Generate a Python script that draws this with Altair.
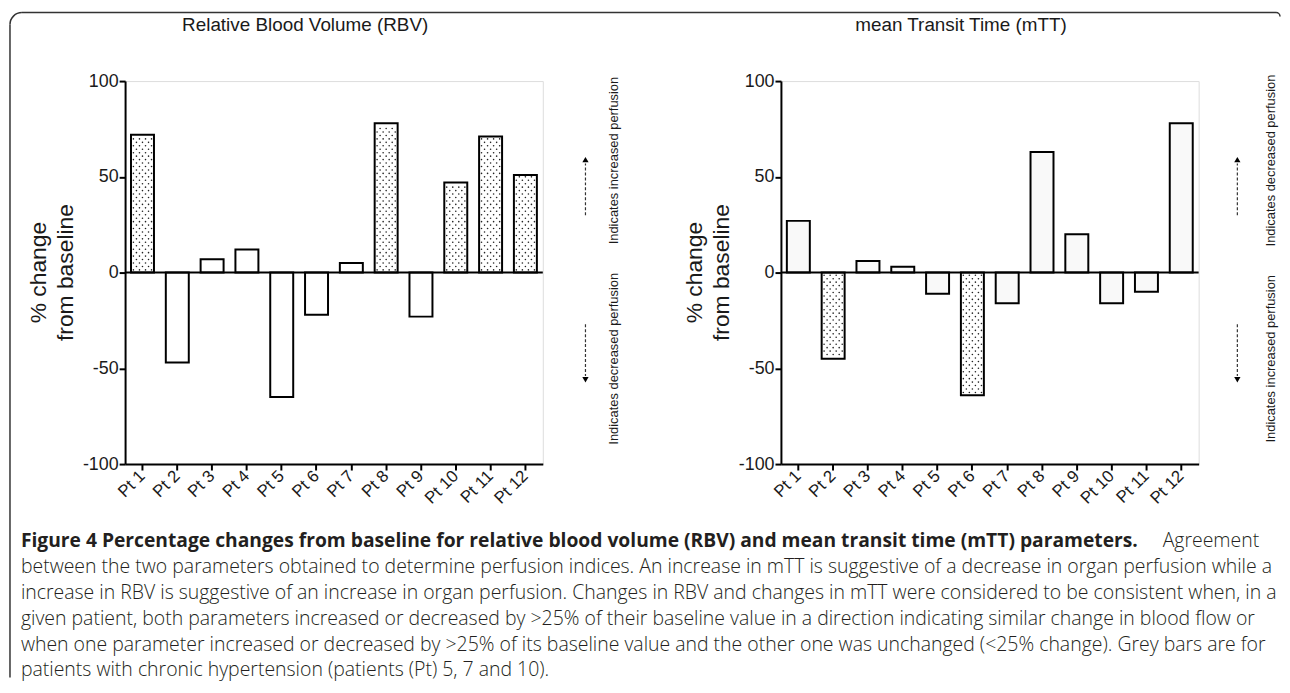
import altair as alt
import pandas as pd

# ---------------- data ----------------
patients = ["Pt 1", "Pt 2", "Pt 3", "Pt 4", "Pt 5", "Pt 6",
            "Pt 7", "Pt 8", "Pt 9", "Pt 10", "Pt 11", "Pt 12"]
rbv_change = [72, -47, 7, 12, -65, -22, 5, 78, -23, 47, 71, 51]
mtt_change = [27, -45, 6, 3, -11, -64, -16, 63, 20, -16, -10, 78]
rbv_dotted = [True, False, False, False, False, False, False, True, False, True, True, True]
mtt_dotted = [False, True, False, False, False, True, False, False, False, False, False, False]
y_tick_values = [-100, -50, 0, 50, 100]

panel_titles = ["Relative Blood Volume (RBV)", "mean Transit Time (mTT)"]
y_title_lines = ["% change", "from baseline"]
rbv_notes = ["Indicates increased perfusion", "Indicates decreased perfusion"]
mtt_notes = ["Indicates decreased perfusion", "Indicates increased perfusion"]

caption_bold = ("Figure 4 Percentage changes from baseline for relative blood volume (RBV) "
                "and mean transit time (mTT) parameters.")
caption_tail = "Agreement"
caption_lines = [
    "between the two parameters obtained to determine perfusion indices. An increase in mTT is suggestive of a decrease in organ perfusion while a",
    "increase in RBV is suggestive of an increase in organ perfusion. Changes in RBV and changes in mTT were considered to be consistent when, in a",
    "given patient, both parameters increased or decreased by >25% of their baseline value in a direction indicating similar change in blood flow or",
    "when one parameter increased or decreased by >25% of its baseline value and the other one was unchanged (<25% change). Grey bars are for",
    "patients with chronic hypertension (patients (Pt) 5, 7 and 10).",
]

# ---------------- layout ----------------
FONT = "Liberation Sans"
CAP_FONT = "Open Sans"
W, H = 421, 386
PLOT_LEFT, PLOT_TOP = 125, 78      # page position of the left plot area
SPACING = 240


def px(page_x):
    return page_x - PLOT_LEFT


def py(page_y):
    return page_y - PLOT_TOP


x_scale = alt.Scale(domain=patients, paddingInner=0.34, paddingOuter=0.17)
y_scale = alt.Scale(domain=[-100, 100], nice=False, zero=False)
N_SLOTS = 7
slot_pos = [(0.3 + i + 0.5) / (N_SLOTS + 0.6) for i in range(N_SLOTS)]

x_axis = alt.Axis(title=None, labelAngle=-45, labelAlign="right", labelBaseline="middle",
                  labelFontSize=17, labelFont=FONT, labelColor="#1a1a1a", labelPadding=3,
                  labelOverlap=False, tickSize=6, tickWidth=2, tickColor="black",
                  domainColor="black", domainWidth=2, grid=False)
y_axis = alt.Axis(values=y_tick_values, title=None, labelFontSize=18, labelFont=FONT,
                  labelColor="#1a1a1a", labelPadding=1, labelFlush=False, labelOverlap=False,
                  labelExpr="'' + datum.value",
                  tickSize=6, tickWidth=2, tickColor="black", domainColor="black",
                  domainWidth=2, grid=False)


def dot_table(values, dotted):
    rows = []
    for p, v, d in zip(patients, values, dotted):
        if not d:
            continue
        sign = 1 if v > 0 else -1
        k = 0
        while True:
            yy = 1.4 + k * 1.8
            if yy > abs(v) - 1.0:
                break
            chosen = range(0, N_SLOTS, 2) if k % 2 == 0 else range(1, N_SLOTS, 2)
            for s in chosen:
                rows.append({"patient": p, "value": sign * yy, "slot": s})
            k += 1
    return pd.DataFrame(rows)


def one(text=""):
    return pd.DataFrame({"text": [text]})


def panel(values, dotted, title, notes, plain_fill, note_x, arrow_x, extra=()):
    df = pd.DataFrame({"patient": patients, "value": values, "dotted": dotted})
    X = alt.X("patient:N", sort=patients, scale=x_scale, axis=x_axis)

    bars = alt.Chart(df).mark_bar(stroke="black", strokeWidth=2).encode(
        x=X,
        y=alt.Y("value:Q", scale=y_scale, axis=y_axis),
        y2=alt.datum(0),
        fill=alt.condition("datum.dotted", alt.value("white"), alt.value(plain_fill)),
    )
    dots_df = dot_table(values, dotted)
    dot_layers = []
    for i in range(N_SLOTS):
        dot_layers.append(
            alt.Chart(dots_df).transform_filter(alt.datum.slot == i)
            .mark_circle(size=2.6, color="#222222", opacity=1).encode(
                x=alt.X("patient:N", sort=patients, scale=x_scale, bandPosition=slot_pos[i]),
                y=alt.Y("value:Q", scale=y_scale),
            )
        )
    zero = alt.Chart(one()).mark_rule(color="black", strokeWidth=2).encode(y=alt.datum(0))

    note_df = pd.DataFrame({"text": notes, "value": [58.5, -45.0]})
    note_marks = alt.Chart(note_df).mark_text(angle=270, fontSize=13, font=FONT, color="#1a1a1a",
                                              align="center", baseline="middle").encode(
        x=alt.value(note_x), y=alt.Y("value:Q", scale=y_scale), text="text:N")

    arrow_up = alt.Chart(one()).mark_rule(color="#333", strokeWidth=1.2, strokeDash=[3, 2]).encode(
        x=alt.value(arrow_x), y=alt.datum(30), y2=alt.datum(57))
    arrow_dn = alt.Chart(one()).mark_rule(color="#333", strokeWidth=1.2, strokeDash=[3, 2]).encode(
        x=alt.value(arrow_x), y=alt.datum(-27), y2=alt.datum(-54))
    head_up = alt.Chart(one()).mark_point(shape="triangle-up", filled=True, size=40, color="black",
                                          opacity=1).encode(x=alt.value(arrow_x), y=alt.datum(59))
    head_dn = alt.Chart(one()).mark_point(shape="triangle-down", filled=True, size=40, color="black",
                                          opacity=1).encode(x=alt.value(arrow_x), y=alt.datum(-56))

    title_mark = alt.Chart(one(title)).mark_text(fontSize=19, font=FONT, color="#1a1a1a",
                                                 baseline="middle").encode(
        x=alt.value(W / 2 - 29), y=alt.value(py(22)), text="text:N")
    ytitle1 = alt.Chart(one(y_title_lines[0])).mark_text(angle=270, fontSize=23, font=FONT,
                                                         color="#1a1a1a", baseline="middle").encode(
        x=alt.value(-87), y=alt.value(H / 2), text="text:N")
    ytitle2 = alt.Chart(one(y_title_lines[1])).mark_text(angle=270, fontSize=23, font=FONT,
                                                         color="#1a1a1a", baseline="middle").encode(
        x=alt.value(-59), y=alt.value(H / 2), text="text:N")

    layers = [bars] + dot_layers + [zero, note_marks, arrow_up, arrow_dn, head_up, head_dn,
                                    title_mark, ytitle1, ytitle2] + list(extra)
    return alt.layer(*layers).properties(width=W, height=H)


# ---------- frame and caption (drawn in the left panel's coordinates) ----------
FRAME = "#333333"
frame_top = alt.Chart(one()).mark_rule(color=FRAME, strokeWidth=1.5).encode(
    x=alt.value(px(21)), x2=alt.value(px(1285)), y=alt.value(py(9)))
frame_left = alt.Chart(one()).mark_rule(color=FRAME, strokeWidth=1.5).encode(
    x=alt.value(px(9)), y=alt.value(py(21)), y2=alt.value(py(679)))
frame_corner = alt.Chart(one()).mark_arc(radius=12.75, radius2=11.25, theta=4.712389,
                                         theta2=6.283185, color=FRAME).encode(
    x=alt.value(px(21)), y=alt.value(py(21)))
frame_corner_r = alt.Chart(one()).mark_arc(radius=4.75, radius2=3.25, theta=0,
                                           theta2=1.570796, color=FRAME).encode(
    x=alt.value(px(1285)), y=alt.value(py(13)))

CAP_Y0, CAP_DY = 542, 26
cap_color = "#231f20"
cap_bold = alt.Chart(one(caption_bold)).mark_text(align="left", baseline="middle", font=CAP_FONT,
                                                  fontSize=19.4, fontWeight="bold",
                                                  color=cap_color).encode(
    x=alt.value(px(20)), y=alt.value(py(CAP_Y0)), text="text:N")
cap_tail = alt.Chart(one(caption_tail)).mark_text(align="right", baseline="middle", font=CAP_FONT,
                                                  fontSize=19.6, fontWeight=300,
                                                  color=cap_color).encode(
    x=alt.value(px(1268)), y=alt.value(py(CAP_Y0)), text="text:N")
cap_df = pd.DataFrame({"text": caption_lines,
                       "line": list(range(1, len(caption_lines) + 1))})
cap_body = alt.Chart(cap_df).mark_text(align="left", baseline="middle", font=CAP_FONT,
                                       fontSize=19.6, fontWeight=300, color=cap_color).encode(
    x=alt.value(px(20)),
    y=alt.Y("line:Q", scale=alt.Scale(domain=[0, 1], range=[py(CAP_Y0), py(CAP_Y0 + CAP_DY)]),
            axis=None),
    text="text:N")

left = panel(rbv_change, rbv_dotted, panel_titles[0], rbv_notes, "white",
             note_x=px(618), arrow_x=px(589),
             extra=[frame_top, frame_left, frame_corner, frame_corner_r, cap_bold, cap_tail])
left = alt.layer(left, cap_body).resolve_scale(y="independent")

right = panel(mtt_change, mtt_dotted, panel_titles[1], mtt_notes, "#f9f9f9",
              note_x=1272 - 778, arrow_x=1238 - 778)

chart = alt.hconcat(left, right, spacing=SPACING, bounds="flush", padding=0).configure_view(
    stroke=None).configure(background="white")

chart.save("out.html", embed_options={"renderer": "svg", "actions": False})
